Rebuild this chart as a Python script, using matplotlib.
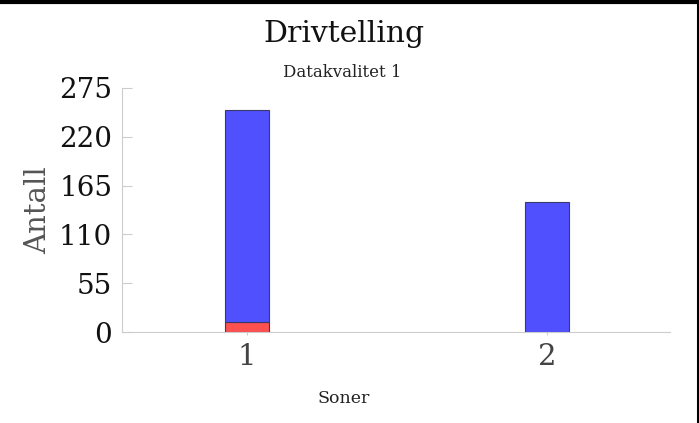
import matplotlib
matplotlib.use("Agg")
import matplotlib.pyplot as plt
from matplotlib.lines import Line2D

# Data
categories = ["1", "2"]
positions = [1, 2]
red_values = [11, 0]
blue_values = [239, 146]
yticks = [0, 55, 110, 165, 220, 275]

plt.rcParams['font.family'] = ['DejaVu Serif']

fig = plt.figure(figsize=(6.99, 4.23), dpi=100)
ax = fig.add_axes([122/699, 1-332/423, (670-122)/699, (332-88)/423])

width = 0.147
ax.bar(positions, red_values, width=width, color='#ff5050', edgecolor='#3a3a6a', linewidth=0.8)
ax.bar(positions, blue_values, width=width, bottom=red_values, color='#5050ff', edgecolor='#3a3a6a', linewidth=0.8)

ax.set_xlim(0.583, 2.41)
ax.set_ylim(0, 275)
ax.set_xticks(positions)
ax.set_xticklabels(categories)
ax.set_yticks(yticks)
ax.set_yticklabels([str(v) for v in yticks])

for s in ['top', 'right']:
    ax.spines[s].set_visible(False)
for s in ['left', 'bottom']:
    ax.spines[s].set_color('#cccccc')
    ax.spines[s].set_linewidth(0.8)

ax.tick_params(axis='y', direction='in', length=7, color='#cccccc', labelsize=20, labelcolor='#111111', pad=7)
ax.tick_params(axis='x', direction='out', length=2, color='#cccccc', labelsize=21, labelcolor='#444444', pad=6)

ax.set_ylabel('Antall', fontsize=21, color='#555555')
ax.yaxis.set_label_coords((38-122)/548, 0.5)
ax.yaxis.label.set_va('center')

ax.set_xlabel('Soner', fontsize=12.5, color='#222222')
ax.xaxis.set_label_coords((344-122)/548, (332-403)/244)
ax.xaxis.label.set_va('baseline')

fig.text(344/699, 1-42/423, 'Drivtelling', ha='center', va='baseline', fontsize=21.5, color='#111111')
fig.text(342/699, 1-77/423, 'Datakvalitet 1', ha='center', va='baseline', fontsize=12, color='#222222')

# Frame lines at top and right edges
fig.lines.append(Line2D([0, 1], [1 - 2/423, 1 - 2/423], transform=fig.transFigure,
                        color='black', linewidth=3, figure=fig))
fig.lines.append(Line2D([1 - 1.5/699, 1 - 1.5/699], [0, 1], transform=fig.transFigure,
                        color='black', linewidth=2.2, figure=fig))

fig.savefig('out.png', dpi=100)
